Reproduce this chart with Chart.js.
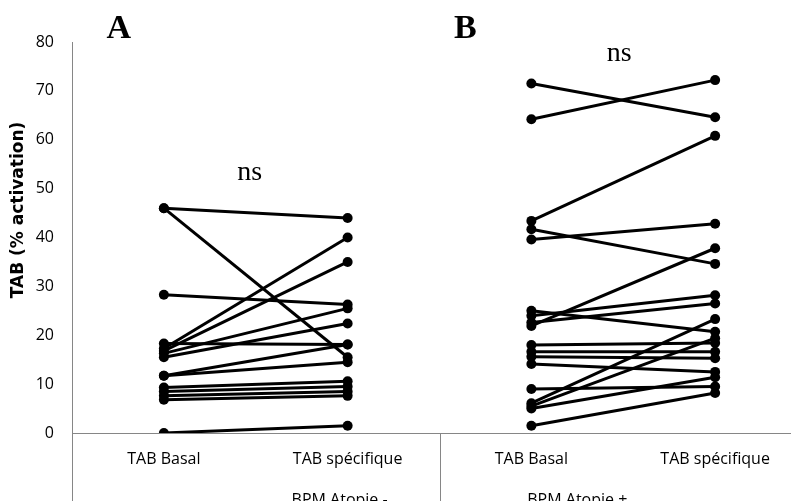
<!DOCTYPE html>
<html>
<head>
<meta charset="utf-8">
<script src="https://cdn.jsdelivr.net/npm/chart.js@4.4.1/dist/chart.umd.min.js"></script>
<style>
html, body { margin: 0; padding: 0; overflow: hidden; background: #fff; }
#wrap { position: absolute; left: 0; top: 0; width: 812px; height: 501px; }
</style>
</head>
<body>
<div id="wrap"><canvas id="chart"></canvas></div>
<script>
var categories = ['TAB Basal', 'TAB spécifique', 'TAB Basal', 'TAB spécifique'];
var groups = ['BPM Atopie -', 'BPM Atopie +'];
var panels = ['A', 'B'];
var signif = ['ns', 'ns'];
var yTitle = 'TAB (% activation)';

// BPM Atopie - : one entry per subject, basal then specific
var basalA = [46, 46, 28.3, 18.3, 17.3, 16.8, 16.3, 15.5, 11.7, 11.7, 9.3, 8.5, 7.6, 6.8, 0];
var specA  = [44, 15.5, 26.3, 18.1, 40, 35, 25.5, 22.4, 18.1, 14.5, 10.6, 9.5, 8.5, 7.6, 1.5];

// BPM Atopie +
var basalB = [71.5, 64.2, 43.4, 41.7, 39.6, 21.9, 24.0, 22.6, 25.0, 18.0, 16.6, 15.6, 14.1, 9.0, 6.1, 5.5, 5.0, 1.5];
var specB  = [64.6, 72.2, 60.8, 34.6, 42.8, 37.8, 28.2, 26.5, 20.7, 18.4, 16.6, 15.3, 12.5, 9.5, 23.3, 19.4, 11.4, 8.2];

var datasets = [];
for (var i = 0; i < basalA.length; i++) {
    datasets.push({ data: [basalA[i], specA[i], null, null] });
}
for (var j = 0; j < basalB.length; j++) {
    datasets.push({ data: [null, null, basalB[j], specB[j]] });
}

var axisGrey = '#868686';

// extra texts + the group part of the category axis
var extras = {
    id: 'extras',
    afterDraw: function(chart) {
        var ctx = chart.ctx;
        var x = chart.scales.x;
        var area = chart.chartArea;
        var c0 = x.getPixelForTick(0), c1 = x.getPixelForTick(1);
        var c2 = x.getPixelForTick(2), c3 = x.getPixelForTick(3);
        ctx.save();

        // axis lines going down through the label area
        ctx.strokeStyle = axisGrey;
        ctx.lineWidth = 1;
        ctx.beginPath();
        ctx.moveTo(area.left + 0.5, area.bottom);
        ctx.lineTo(area.left + 0.5, chart.height);
        var mid = Math.round((c1 + c2) / 2) + 0.5;
        ctx.moveTo(mid, area.bottom);
        ctx.lineTo(mid, chart.height);
        ctx.stroke();

        ctx.fillStyle = '#000';
        ctx.textAlign = 'center';
        ctx.textBaseline = 'alphabetic';
        ctx.font = '16px "Open Sans"';
        ctx.fillText(groups[0], c1 - 8, 505);
        ctx.fillText(groups[1], c2 + (c3 - c2) * 0.25, 505);

        ctx.font = 'bold 34px "Liberation Serif"';
        ctx.fillText(panels[0], c0 - 45, 38);
        ctx.fillText(panels[1], c2 - 66, 38);

        ctx.font = '28px "Liberation Serif"';
        ctx.fillText(signif[0], (c0 + c1) / 2 - 6, 180);
        ctx.fillText(signif[1], (c2 + c3) / 2 - 4, 61);

        ctx.translate(19, 210);
        ctx.rotate(-Math.PI / 2);
        ctx.textBaseline = 'middle';
        ctx.font = 'bold 17px "DejaVu Sans"';
        ctx.fillText(yTitle, 0, 0);
        ctx.restore();
    }
};

new Chart('chart', {
    type: 'line',
    data: { labels: categories, datasets: datasets },
    plugins: [extras],
    options: {
        responsive: true,
        maintainAspectRatio: false,
        animation: false,
        spanGaps: false,
        layout: { padding: { top: 42, left: 0, right: 0, bottom: 0 } },
        elements: {
            line: { borderColor: '#000', borderWidth: 3, tension: 0 },
            point: { radius: 5, backgroundColor: '#000', borderColor: '#000', borderWidth: 0 }
        },
        plugins: { legend: { display: false }, tooltip: { enabled: false } },
        scales: {
            x: {
                type: 'category',
                offset: true,
                grid: { display: false, drawTicks: false },
                border: { display: true, color: axisGrey, width: 1 },
                ticks: { color: '#000', font: { family: 'Open Sans', size: 16 }, padding: 17, maxRotation: 0, autoSkip: false },
                afterFit: function(s) { s.height = 68; }
            },
            y: {
                min: 0,
                max: 80,
                grid: { display: false, drawTicks: false },
                border: { display: true, color: axisGrey, width: 1 },
                ticks: { stepSize: 10, color: '#000', font: { family: 'Open Sans', size: 16 }, padding: 18 },
                afterFit: function(s) { s.width = 72; }
            }
        }
    }
});
</script>
</body>
</html>
